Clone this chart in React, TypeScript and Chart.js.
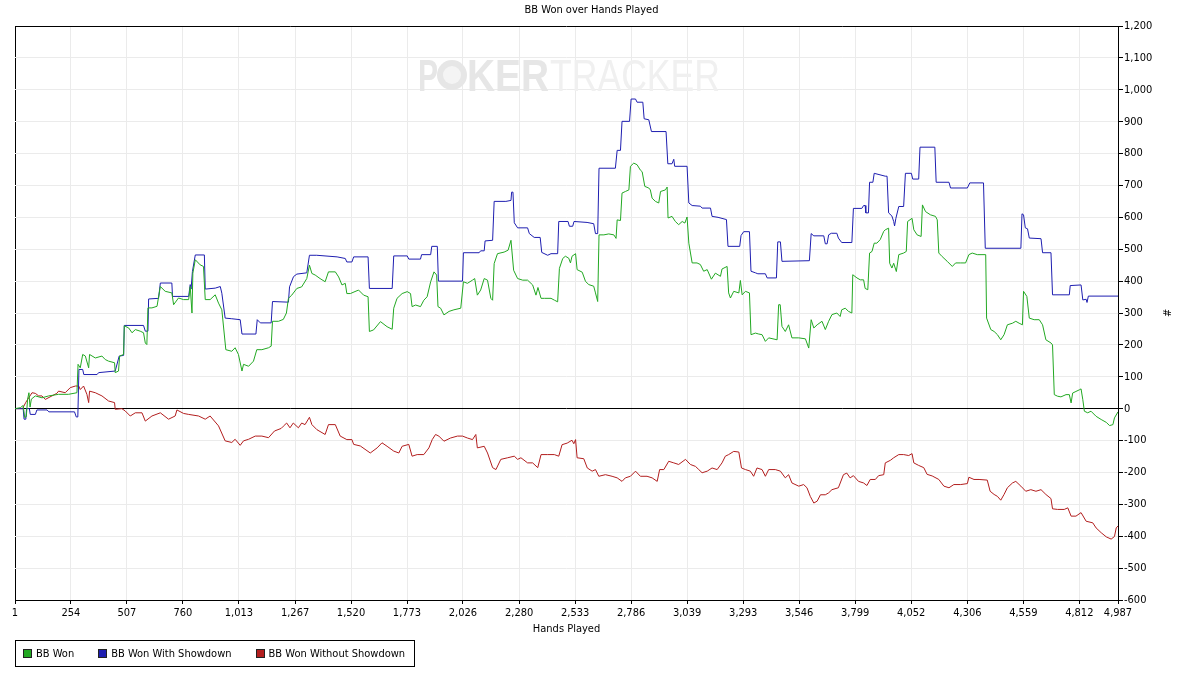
import { useEffect, useRef } from 'react';
import { Chart, registerables } from 'chart.js';

Chart.register(...registerables);

const FONT = '"DejaVu Sans Condensed", "Liberation Sans", sans-serif';

// x axis tick labels (hands) and y axis range
const xTickHands = [1, 254, 507, 760, 1013, 1267, 1520, 1773, 2026, 2280, 2533, 2786, 3039, 3293, 3546, 3799, 4052, 4306, 4559, 4812, 4987];
const yMin = -600;
const yMax = 1200;
const yStep = 100;

const seriesLabels = ['BB Won', 'BB Won With Showdown', 'BB Won Without Showdown'];
const seriesColors = ['#22a822', '#1e1eb0', '#b21e1e'];

// [hand, bb]
const bbWon: [number, number][] = [
  [1, 0], [25, 3], [38, 10], [45, -28], [52, -25], [58, 30], [64, 50], [69, 5], [75, 30], [93, 40], [123, 34], [153, 40], [198, 45], [243, 45], [281, 50],
  [286, 139], [296, 128], [307, 170], [319, 165], [334, 128], [338, 170], [364, 159], [394, 165], [409, 154], [424, 149], [451, 144], [454, 113], [469, 118],
  [474, 165], [492, 170], [495, 260], [515, 253], [530, 238], [545, 248], [567, 243], [582, 238], [590, 206], [597, 201], [602, 316], [620, 316], [643, 321],
  [658, 383], [680, 368], [710, 363], [718, 326], [740, 347], [763, 342], [786, 342], [793, 383], [801, 300], [805, 425], [816, 467], [838, 451], [853, 446],
  [861, 342], [883, 342], [906, 357], [921, 331], [936, 310], [954, 185], [981, 180], [996, 191], [1011, 170], [1027, 118], [1034, 139], [1057, 133],
  [1079, 149], [1094, 185], [1117, 185], [1147, 191], [1159, 196], [1165, 274], [1192, 274], [1214, 280], [1228, 300], [1237, 346], [1252, 356], [1275, 377],
  [1297, 382], [1320, 408], [1332, 450], [1343, 424], [1358, 419], [1380, 408], [1403, 398], [1418, 429], [1449, 429], [1464, 413], [1479, 388], [1494, 393],
  [1501, 361], [1517, 361], [1554, 372], [1577, 356], [1597, 351], [1603, 242], [1622, 247], [1653, 273], [1683, 257], [1706, 249], [1713, 315], [1728, 346],
  [1751, 361], [1774, 367], [1789, 361], [1796, 320], [1812, 325], [1834, 320], [1849, 340], [1864, 351], [1880, 398], [1895, 429], [1907, 419], [1913, 320],
  [1925, 315], [1940, 294], [1963, 305], [1985, 310], [2016, 315], [2028, 398], [2046, 393], [2069, 403], [2079, 408], [2091, 356], [2106, 372], [2122, 408],
  [2137, 403], [2152, 346], [2160, 340], [2167, 455], [2182, 486], [2212, 491], [2230, 497], [2243, 528], [2255, 434], [2273, 408], [2296, 403], [2318, 403],
  [2341, 388], [2356, 356], [2365, 380], [2379, 346], [2394, 346], [2424, 346], [2440, 340], [2454, 335], [2462, 440], [2477, 471], [2489, 478], [2504, 472],
  [2512, 457], [2519, 478], [2535, 486], [2542, 436], [2565, 428], [2580, 399], [2595, 389], [2617, 384], [2625, 363], [2635, 336], [2641, 545], [2663, 545],
  [2685, 548], [2708, 545], [2718, 534], [2723, 592], [2738, 590], [2745, 676], [2760, 681], [2776, 686], [2783, 760], [2798, 770], [2813, 765], [2828, 748],
  [2836, 743], [2848, 697], [2866, 692], [2873, 686], [2881, 660], [2896, 650], [2911, 645], [2919, 681], [2941, 686], [2949, 695], [2953, 598], [2971, 603],
  [2986, 587], [3001, 577], [3017, 587], [3029, 582], [3039, 601], [3047, 519], [3062, 457], [3084, 457], [3099, 452], [3114, 431], [3130, 436], [3149, 406],
  [3167, 425], [3190, 415], [3197, 438], [3220, 446], [3227, 363], [3235, 347], [3250, 368], [3273, 363], [3280, 402], [3288, 357], [3303, 368], [3321, 363],
  [3328, 232], [3348, 237], [3363, 234], [3378, 232], [3393, 211], [3408, 222], [3446, 216], [3453, 326], [3460, 326], [3468, 258], [3483, 242], [3498, 263],
  [3513, 222], [3544, 222], [3574, 219], [3589, 190], [3600, 279], [3612, 253], [3627, 263], [3649, 274], [3664, 248], [3679, 274], [3694, 295], [3716, 300],
  [3731, 289], [3738, 310], [3754, 315], [3769, 305], [3784, 300], [3788, 420], [3807, 410], [3822, 404], [3837, 404], [3844, 377], [3856, 373], [3864, 488],
  [3875, 493], [3885, 519], [3897, 519], [3912, 530], [3928, 556], [3935, 561], [3950, 566], [3955, 456], [3965, 441], [3973, 456], [3985, 430], [3996, 483],
  [4018, 488], [4030, 493], [4036, 587], [4056, 597], [4064, 561], [4079, 545], [4097, 540], [4103, 639], [4117, 618], [4139, 608], [4162, 603], [4170, 592],
  [4177, 488], [4192, 477], [4215, 462], [4238, 446], [4253, 457], [4276, 457], [4298, 457], [4313, 483], [4328, 488], [4351, 483], [4389, 483], [4393, 284],
  [4412, 248], [4427, 242], [4442, 232], [4457, 216], [4472, 232], [4487, 263], [4510, 268], [4525, 274], [4540, 268], [4555, 263], [4560, 368], [4575, 352],
  [4586, 284], [4608, 279], [4631, 279], [4646, 263], [4661, 216], [4684, 206], [4691, 200], [4699, 44], [4714, 39], [4729, 37], [4752, 44], [4767, 44],
  [4775, 18], [4782, 49], [4797, 54], [4812, 59], [4820, 62], [4828, 28], [4835, -8], [4850, -13], [4865, -8], [4888, -24], [4911, -34], [4934, -43],
  [4949, -53], [4964, -50], [4971, -29], [4987, -10],
];

const bbWonShowdown: [number, number][] = [
  [1, 0], [38, 0], [42, -33], [50, -33], [53, 0], [66, 0], [70, -18], [93, -18], [100, -4], [146, -4], [154, -10], [270, -10], [278, -26], [285, -26],
  [290, 123], [307, 123], [312, 107], [372, 107], [379, 113], [454, 118], [472, 165], [492, 167], [495, 261], [582, 261], [590, 243], [602, 243], [605, 344],
  [650, 346], [658, 394], [710, 394], [713, 352], [786, 352], [793, 389], [797, 375], [803, 430], [816, 482], [857, 482], [861, 375], [906, 378], [929, 383],
  [936, 362], [951, 284], [981, 282], [1019, 279], [1027, 234], [1090, 234], [1096, 279], [1110, 269], [1159, 269], [1165, 336], [1237, 334], [1242, 382],
  [1260, 414], [1275, 422], [1320, 426], [1332, 481], [1365, 481], [1457, 476], [1494, 471], [1501, 460], [1524, 460], [1532, 476], [1597, 476], [1603, 377],
  [1706, 377], [1713, 479], [1774, 479], [1781, 469], [1834, 469], [1839, 483], [1880, 483], [1885, 509], [1910, 509], [1915, 400], [2024, 400], [2028, 489],
  [2099, 489], [2106, 495], [2122, 495], [2126, 526], [2160, 528], [2167, 650], [2220, 650], [2243, 653], [2246, 679], [2252, 679], [2258, 583], [2273, 567],
  [2318, 567], [2326, 549], [2348, 537], [2375, 537], [2382, 490], [2409, 481], [2424, 486], [2454, 486], [2459, 587], [2501, 587], [2507, 572], [2522, 572],
  [2528, 587], [2587, 584], [2617, 580], [2625, 549], [2635, 549], [2641, 754], [2715, 754], [2723, 810], [2738, 810], [2745, 901], [2779, 901], [2786, 971],
  [2806, 971], [2813, 961], [2839, 961], [2845, 909], [2866, 906], [2878, 869], [2944, 869], [2952, 768], [2971, 768], [2979, 782], [2983, 760], [3039, 760],
  [3047, 645], [3062, 637], [3099, 635], [3107, 629], [3145, 629], [3152, 603], [3179, 600], [3217, 593], [3224, 509], [3277, 509], [3283, 543], [3295, 555],
  [3321, 555], [3328, 431], [3348, 426], [3359, 423], [3393, 423], [3401, 410], [3443, 410], [3449, 523], [3461, 523], [3468, 462], [3592, 464], [3600, 549],
  [3612, 542], [3657, 542], [3664, 517], [3672, 517], [3679, 545], [3691, 550], [3716, 550], [3723, 535], [3738, 521], [3784, 521], [3791, 628], [3829, 628],
  [3837, 637], [3844, 637], [3847, 614], [3859, 614], [3864, 710], [3879, 710], [3885, 738], [3935, 729], [3943, 729], [3950, 614], [3965, 604], [3973, 587],
  [3977, 573], [3983, 597], [3996, 634], [4018, 634], [4026, 738], [4053, 738], [4059, 720], [4086, 720], [4092, 820], [4159, 820], [4165, 710], [4223, 710],
  [4230, 692], [4306, 692], [4317, 708], [4379, 708], [4387, 503], [4548, 503], [4553, 611], [4560, 608], [4568, 567], [4578, 564], [4586, 535], [4639, 533],
  [4646, 489], [4684, 489], [4691, 357], [4767, 357], [4771, 386], [4820, 388], [4828, 341], [4843, 343], [4847, 333], [4853, 353], [4987, 353],
];

const bbWonNoShowdown: [number, number][] = [
  [1, 0], [35, 0], [50, 20], [78, 50], [93, 48], [108, 40], [123, 40], [138, 29], [168, 40], [190, 48], [198, 55], [228, 50], [251, 66], [274, 71], [289, 71],
  [296, 60], [311, 71], [326, 45], [334, 19], [338, 55], [364, 50], [394, 40], [424, 24], [451, 19], [454, -2], [484, 0], [499, -7], [522, -23], [545, -13],
  [575, -13], [590, -39], [620, -23], [658, -13], [695, -33], [725, -23], [733, -4], [763, -15], [786, -18], [831, -23], [861, -33], [883, -23], [921, -54],
  [951, -101], [981, -106], [996, -96], [1019, -115], [1034, -101], [1057, -96], [1087, -86], [1117, -86], [1147, -91], [1174, -70], [1204, -62], [1214, -55],
  [1229, -45], [1244, -60], [1259, -45], [1282, -60], [1297, -45], [1312, -50], [1332, -27], [1343, -50], [1366, -66], [1403, -81], [1418, -50], [1449, -50],
  [1471, -86], [1501, -97], [1524, -97], [1532, -112], [1562, -117], [1607, -139], [1638, -123], [1660, -107], [1683, -118], [1713, -133], [1736, -139],
  [1751, -118], [1781, -112], [1796, -149], [1819, -144], [1849, -144], [1872, -123], [1887, -97], [1902, -81], [1917, -86], [1940, -102], [1970, -92],
  [2001, -86], [2024, -86], [2046, -92], [2069, -97], [2084, -81], [2091, -123], [2122, -118], [2137, -139], [2160, -185], [2175, -191], [2197, -159],
  [2228, -154], [2258, -149], [2273, -159], [2288, -154], [2318, -170], [2341, -170], [2364, -185], [2379, -144], [2409, -144], [2439, -144], [2459, -149],
  [2474, -113], [2497, -108], [2519, -99], [2527, -110], [2535, -97], [2542, -154], [2572, -157], [2588, -186], [2610, -196], [2625, -191], [2640, -212],
  [2670, -207], [2700, -212], [2723, -217], [2745, -228], [2760, -217], [2783, -212], [2806, -196], [2828, -212], [2858, -212], [2881, -217], [2904, -228],
  [2915, -191], [2934, -191], [2956, -165], [2979, -170], [3001, -175], [3032, -159], [3054, -175], [3077, -181], [3092, -191], [3107, -201], [3130, -196],
  [3152, -186], [3175, -191], [3197, -170], [3212, -149], [3227, -144], [3250, -134], [3273, -136], [3285, -186], [3303, -191], [3325, -196], [3340, -212],
  [3355, -186], [3378, -191], [3393, -212], [3408, -191], [3438, -191], [3461, -196], [3483, -217], [3498, -207], [3513, -233], [3544, -243], [3566, -238],
  [3581, -248], [3596, -275], [3612, -296], [3627, -290], [3642, -270], [3664, -270], [3679, -264], [3694, -254], [3723, -248], [3746, -207], [3761, -202],
  [3776, -217], [3791, -210], [3814, -228], [3837, -233], [3852, -241], [3867, -222], [3890, -222], [3905, -210], [3928, -207], [3935, -170], [3958, -162],
  [3973, -154], [3996, -144], [4018, -144], [4041, -147], [4056, -141], [4064, -170], [4086, -178], [4109, -185], [4124, -206], [4147, -211], [4177, -222],
  [4200, -243], [4223, -248], [4245, -238], [4276, -238], [4306, -235], [4313, -215], [4336, -222], [4359, -222], [4396, -224], [4409, -259], [4427, -269],
  [4442, -275], [4457, -287], [4472, -269], [4487, -248], [4510, -233], [4525, -228], [4548, -243], [4570, -259], [4593, -254], [4616, -259], [4639, -254],
  [4661, -269], [4684, -282], [4691, -314], [4714, -316], [4744, -316], [4760, -311], [4775, -337], [4797, -337], [4820, -326], [4843, -353], [4873, -358],
  [4888, -374], [4911, -389], [4934, -402], [4956, -409], [4971, -401], [4979, -374], [4987, -368],
];

const seriesPoints = [bbWon, bbWonShowdown, bbWonNoShowdown];

const fmt = (v: number | string) => Number(v).toLocaleString('en-US');

// title text and the faint PokerTracker logo behind the lines
const decorPlugin = {
  id: 'decor',
  beforeDatasetsDraw(chart: any) {
    const { ctx, chartArea } = chart;
    const baseY = chartArea.top + 65;
    ctx.save();
    ctx.textBaseline = 'alphabetic';
    ctx.textAlign = 'left';
    ctx.fillStyle = '#e6e6e6';
    ctx.font = 'bold 44px "Liberation Sans", sans-serif';
    ctx.fillText('P', 418, baseY, 20);
    ctx.beginPath();
    ctx.arc(452, baseY - 16, 15, 0, Math.PI * 2);
    ctx.fill();
    ctx.fillStyle = '#f4f4f4';
    ctx.beginPath();
    ctx.arc(452, baseY - 16, 9, 0, Math.PI * 2);
    ctx.fill();
    ctx.fillStyle = '#e6e6e6';
    ctx.fillText('KER', 467, baseY, 82);
    ctx.fillStyle = '#f0f0f0';
    ctx.font = '44px "Liberation Sans", sans-serif';
    ctx.fillText('TRACKER', 550, baseY, 170);
    ctx.restore();
  },
  afterDraw(chart: any) {
    const { ctx } = chart;
    ctx.save();
    ctx.font = `11px ${FONT}`;
    ctx.fillStyle = '#000';
    ctx.textAlign = 'center';
    ctx.textBaseline = 'middle';
    ctx.fillText('BB Won over Hands Played', chart.width / 2, 10);
    ctx.restore();
  },
};

export default function App() {
  const canvasRef = useRef<HTMLCanvasElement>(null);

  useEffect(() => {
    document.body.style.margin = '0';
    if (!canvasRef.current) return;

    const tickFont = { family: FONT, size: 11 };

    const chart = new Chart(canvasRef.current, {
      type: 'line',
      data: {
        datasets: seriesLabels.map((label, i) => ({
          label,
          data: seriesPoints[i].map(([x, y]) => ({ x, y })),
          borderColor: seriesColors[i],
          backgroundColor: seriesColors[i],
          borderWidth: 1,
          pointRadius: 0,
          tension: 0,
        })),
      },
      options: {
        responsive: false,
        animation: false,
        layout: { padding: { left: 15, top: 26, right: 0, bottom: 36 } },
        plugins: {
          legend: { display: false },
          title: { display: false },
          tooltip: { enabled: false },
        },
        scales: {
          x: {
            type: 'linear',
            min: 1,
            max: 4987,
            afterBuildTicks: (scale: any) => {
              scale.ticks = xTickHands.map((value) => ({ value }));
            },
            afterFit: (scale: any) => {
              scale.height = 37;
            },
            ticks: {
              autoSkip: false,
              maxRotation: 0,
              padding: 3,
              color: '#000',
              font: tickFont,
              callback: (v: any) => fmt(v),
            },
            grid: {
              color: (c: any) => (c.tick && c.tick.value === 1 ? '#000' : '#ebebeb'),
              tickColor: '#000',
              tickLength: 4,
            },
            border: { color: '#000' },
            title: {
              display: true,
              text: 'Hands Played',
              color: '#000',
              font: tickFont,
              padding: { top: 0, bottom: 1 },
            },
          },
          y: {
            type: 'linear',
            position: 'right',
            min: yMin,
            max: yMax,
            afterFit: (scale: any) => {
              scale.width = 65;
            },
            ticks: {
              stepSize: yStep,
              padding: 1,
              color: '#000',
              font: tickFont,
              callback: (v: any) => fmt(v),
            },
            grid: {
              color: (c: any) => (c.tick && (c.tick.value === 0 || c.tick.value === yMax) ? '#000' : '#ebebeb'),
              tickColor: '#000',
              tickLength: 5,
            },
            border: { color: '#000' },
            title: {
              display: true,
              text: '#',
              color: '#000',
              font: tickFont,
              padding: { top: 11, bottom: 0 },
            },
          },
        },
      },
      plugins: [decorPlugin],
    });

    return () => {
      chart.destroy();
    };
  }, []);

  return (
    <div style={{ position: 'relative', width: 1183, height: 673, background: '#fff' }}>
      <canvas ref={canvasRef} width={1183} height={673} style={{ display: 'block' }}></canvas>
      <div
        style={{
          position: 'absolute',
          left: 15,
          top: 640,
          width: 400,
          height: 27,
          boxSizing: 'border-box',
          border: '1px solid #000',
          display: 'flex',
          alignItems: 'center',
          paddingLeft: 7,
          fontFamily: FONT,
          fontSize: 11,
          color: '#000',
          whiteSpace: 'nowrap',
          overflow: 'hidden',
        }}
      >
        {seriesLabels.map((label, i) => (
          <div key={label} style={{ display: 'flex', alignItems: 'center', marginRight: 24, flexShrink: 0 }}>
            <span
              style={{
                display: 'inline-block',
                width: 7,
                height: 7,
                border: '1px solid #222',
                background: seriesColors[i],
                marginRight: 4,
                flexShrink: 0,
              }}
            />
            <span>{label}</span>
          </div>
        ))}
      </div>
    </div>
  );
}
